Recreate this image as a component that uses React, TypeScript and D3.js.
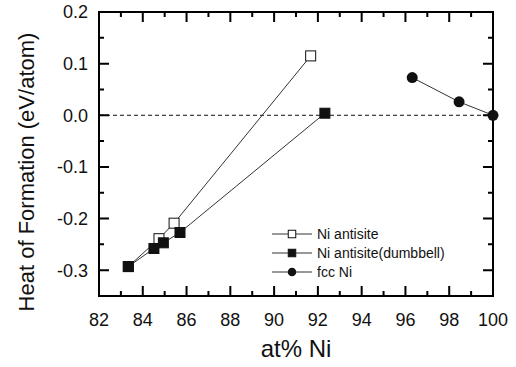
import React from "react";
import * as d3 from "d3";

const antisiteX = [83.34, 84.74, 85.43, 91.67];
const antisiteY = [-0.293, -0.239, -0.209, 0.115];
const dumbbellX = [83.34, 84.51, 84.94, 85.7, 92.32];
const dumbbellY = [-0.293, -0.258, -0.247, -0.227, 0.004];
const fccX = [96.31, 98.45, 100.0];
const fccY = [0.073, 0.026, 0.0];

const xTicks = [82, 84, 86, 88, 90, 92, 94, 96, 98, 100];
const yTicks = [-0.3, -0.2, -0.1, 0.0, 0.1, 0.2];
const legendLabels = ["Ni antisite", "Ni antisite(dumbbell)", "fcc Ni"];

const size = { width: 516, height: 367 };
const margin = { left: 99, right: 23, top: 12, bottom: 71 };
const font = "'Liberation Sans', Arial, sans-serif";
const ink = "#111";

const Marker = ({ shape, cx, cy, s }: { shape: string; cx: number; cy: number; s: number }) =>
    shape === "circle" ? (
        <circle cx={cx} cy={cy} r={s / 2} fill={ink} />
    ) : (
        <rect x={cx - s / 2} y={cy - s / 2} width={s} height={s}
            fill={shape === "open" ? "#fff" : ink} stroke={ink} strokeWidth={1} />
    );

const App = () => {
    const x = d3.scaleLinear().domain([82, 100]).range([margin.left, size.width - margin.right]);
    const y = d3.scaleLinear().domain([-0.35, 0.2]).range([size.height - margin.bottom, margin.top]);
    const [x0, x1] = x.range();
    const [y0, y1] = y.range();

    const xMinor = d3.range(83, 100, 2);
    const yMinor = [-0.35, -0.25, -0.15, -0.05, 0.05, 0.15];
    const tp = d3.path();
    const addX = (vals: number[], len: number) => vals.forEach((v) => {
        tp.moveTo(x(v), y0); tp.lineTo(x(v), y0 - len);
        tp.moveTo(x(v), y1); tp.lineTo(x(v), y1 + len);
    });
    const addY = (vals: number[], len: number) => vals.forEach((v) => {
        tp.moveTo(x0, y(v)); tp.lineTo(x0 + len, y(v));
        tp.moveTo(x1, y(v)); tp.lineTo(x1 - len, y(v));
    });
    addX(xTicks, 10); addX(xMinor, 5); addY(yTicks, 10); addY(yMinor, 5);

    const line = d3.line<[number, number]>().x((d) => x(d[0])).y((d) => y(d[1]));
    const zip = (xs: number[], ys: number[]) => xs.map((v, i) => [v, ys[i]] as [number, number]);
    const series = [
        { pts: zip(antisiteX, antisiteY), shape: "open" },
        { pts: zip(dumbbellX, dumbbellY), shape: "square" },
        { pts: zip(fccX, fccY), shape: "circle" },
    ];
    const rows = [234, 253, 272];

    return (
        <svg width={size.width} height={size.height}
            style={{ position: "absolute", left: 0, top: 0, background: "#fff" }}>
            <line x1={x0} x2={x1} y1={y(0)} y2={y(0)} stroke={ink} strokeWidth={1} strokeDasharray="4,3" />
            <path d={tp.toString()} fill="none" stroke="#000" strokeWidth={2} />
            <rect x={x0} y={y1} width={x1 - x0} height={y0 - y1} fill="none" stroke="#000" strokeWidth={2} />

            {xTicks.map((d) => (
                <text key={d} x={x(d)} y={y0 + 30} textAnchor="middle"
                    fontFamily={font} fontSize={18} fill={ink}>{d}</text>
            ))}
            {yTicks.map((d) => (
                <text key={d} x={x0 - 11} y={y(d)} dy="0.36em" textAnchor="end"
                    fontFamily={font} fontSize={18} fill={ink}>{d.toFixed(1)}</text>
            ))}

            <text x={(x0 + x1) / 2} y={357} textAnchor="middle" fontFamily={font} fontSize={24} fill={ink}>
                at% Ni
            </text>
            <text transform={`translate(34,${(y0 + y1) / 2 + 18}) rotate(-90)`} textAnchor="middle"
                fontFamily={font} fontSize={22} fill={ink}>
                Heat of Formation (eV/atom)
            </text>

            {series.map((s, i) => (
                <g key={i}>
                    <path d={line(s.pts) || ""} fill="none" stroke="#333" strokeWidth={1} />
                    {s.pts.map((p, j) => (
                        <Marker key={j} shape={s.shape} cx={x(p[0])} cy={y(p[1])} s={s.shape === "circle" ? 11 : 10} />
                    ))}
                </g>
            ))}

            {series.map((s, i) => (
                <g key={"l" + i}>
                    <line x1={272} x2={312} y1={rows[i]} y2={rows[i]} stroke="#333" strokeWidth={1} />
                    <Marker shape={s.shape} cx={292} cy={rows[i]} s={s.shape === "circle" ? 8.5 : 7.5} />
                    <text x={317} y={rows[i]} dy="0.36em" fontFamily={font} fontSize={14} fill={ink}>
                        {legendLabels[i]}
                    </text>
                </g>
            ))}
        </svg>
    );
};

export default App;
